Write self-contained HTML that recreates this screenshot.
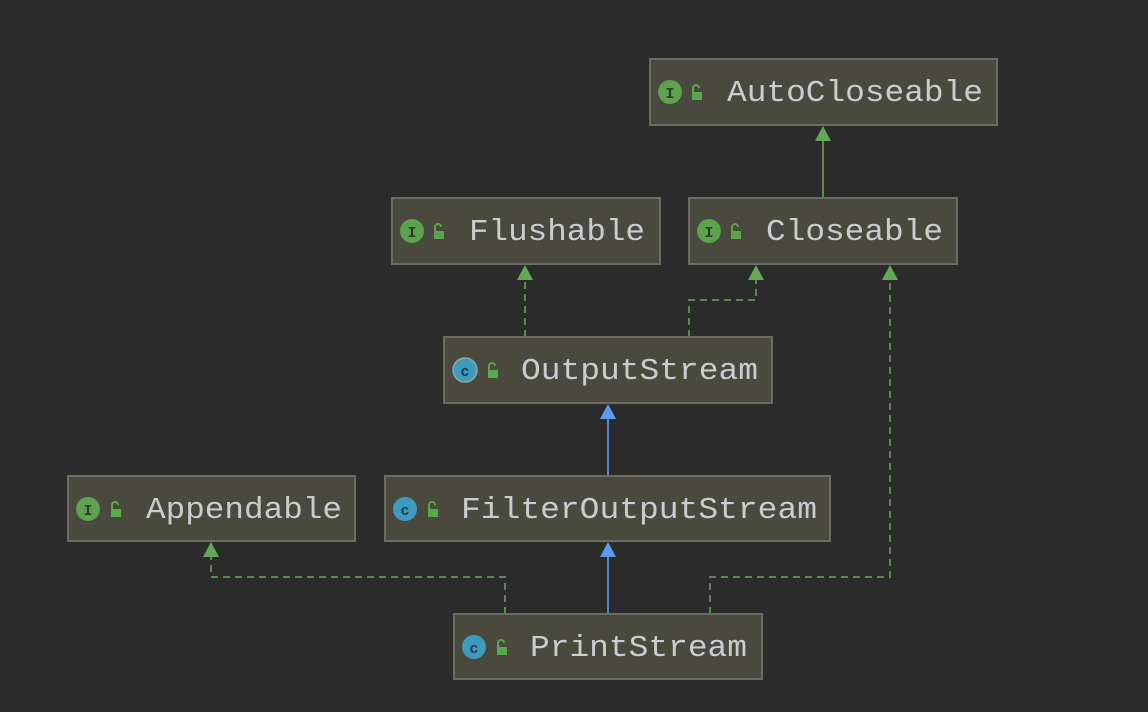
<!DOCTYPE html>
<html><head><meta charset="utf-8"><style>
html,body{margin:0;padding:0;background:#2b2b2b;}
svg{display:block}
text{font-family:"Liberation Mono","DejaVu Sans Mono",monospace;}
</style></head><body>
<svg width="1148" height="712" viewBox="0 0 1148 712" xmlns="http://www.w3.org/2000/svg">
<rect width="1148" height="712" fill="#2b2b2b"/>
<defs>
<g id="lock"><rect x="-5" y="-1" width="10" height="8" fill="#59a84b"/><path d="M-4,-1 v-4 a3,3 0 0 1 6,0" fill="none" stroke="#59a84b" stroke-width="2"/></g>
</defs>
<g fill="none" stroke-width="2">
<line x1="823" y1="198" x2="823" y2="138" stroke="#578c4a"/>
<g stroke="#578c4a" stroke-dasharray="7,5">
<line x1="525" y1="337" x2="525" y2="278"/>
<polyline points="689,337 689,300 756,300 756,278"/>
<polyline points="505,614 505,577 211,577 211,555"/>
<polyline points="710,614 710,577 890,577 890,278"/>
</g>
<g stroke="#5488cc">
<line x1="608" y1="476" x2="608" y2="418"/>
<line x1="608" y1="614" x2="608" y2="556"/>
</g>
</g>
<g fill="#62a955">
<polygon points="823,126 815,141 831,141"/>
<polygon points="525,265 517,280 533,280"/>
<polygon points="756,265 748,280 764,280"/>
<polygon points="211,542 203,557 219,557"/>
<polygon points="890,265 882,280 898,280"/>
</g>
<g fill="#5b9cf0">
<polygon points="608,404 600,419 616,419"/>
<polygon points="608,542 600,557 616,557"/>
</g>
<g stroke="#6c6c64" stroke-width="2" fill="#4a493e">
<rect x="650" y="59" width="347" height="66"/>
<rect x="392" y="198" width="268" height="66"/>
<rect x="689" y="198" width="268" height="66"/>
<rect x="444" y="337" width="328" height="66"/>
<rect x="68" y="476" width="287" height="65"/>
<rect x="385" y="476" width="445" height="65"/>
<rect x="454" y="614" width="308" height="65"/>
</g>
<g>
<circle cx="670" cy="92" r="12" fill="#5da24c"/><text x="670" y="98" font-size="15" font-weight="bold" fill="#2f3a2a" text-anchor="middle">I</text><use href="#lock" x="697" y="93"/>
<circle cx="412" cy="231" r="12" fill="#5da24c"/><text x="412" y="237" font-size="15" font-weight="bold" fill="#2f3a2a" text-anchor="middle">I</text><use href="#lock" x="439" y="232"/>
<circle cx="709" cy="231" r="12" fill="#5da24c"/><text x="709" y="237" font-size="15" font-weight="bold" fill="#2f3a2a" text-anchor="middle">I</text><use href="#lock" x="736" y="232"/>
<circle cx="465" cy="370" r="12" fill="#3d9cbb" stroke="#8aa" stroke-width="1.5"/><text x="465" y="376" font-size="15" font-weight="bold" fill="#1f3a48" text-anchor="middle">c</text><use href="#lock" x="493" y="371"/>
<circle cx="88" cy="509" r="12" fill="#5da24c"/><text x="88" y="515" font-size="15" font-weight="bold" fill="#2f3a2a" text-anchor="middle">I</text><use href="#lock" x="116" y="510"/>
<circle cx="405" cy="509" r="12" fill="#3d9cbb"/><text x="405" y="515" font-size="15" font-weight="bold" fill="#1f3a48" text-anchor="middle">c</text><use href="#lock" x="433" y="510"/>
<circle cx="474" cy="647" r="12" fill="#3d9cbb"/><text x="474" y="653" font-size="15" font-weight="bold" fill="#1f3a48" text-anchor="middle">c</text><use href="#lock" x="502" y="648"/>
</g>
<g fill="#c9cdd3" font-size="31">
<text x="727" y="101" textLength="256" lengthAdjust="spacingAndGlyphs">AutoCloseable</text>
<text x="469" y="240" textLength="176" lengthAdjust="spacingAndGlyphs">Flushable</text>
<text x="766" y="240" textLength="177" lengthAdjust="spacingAndGlyphs">Closeable</text>
<text x="521" y="379" textLength="237" lengthAdjust="spacingAndGlyphs">OutputStream</text>
<text x="146" y="518" textLength="196" lengthAdjust="spacingAndGlyphs">Appendable</text>
<text x="461" y="518" textLength="356" lengthAdjust="spacingAndGlyphs">FilterOutputStream</text>
<text x="530" y="656" textLength="217" lengthAdjust="spacingAndGlyphs">PrintStream</text>
</g>
</svg>
</body></html>
